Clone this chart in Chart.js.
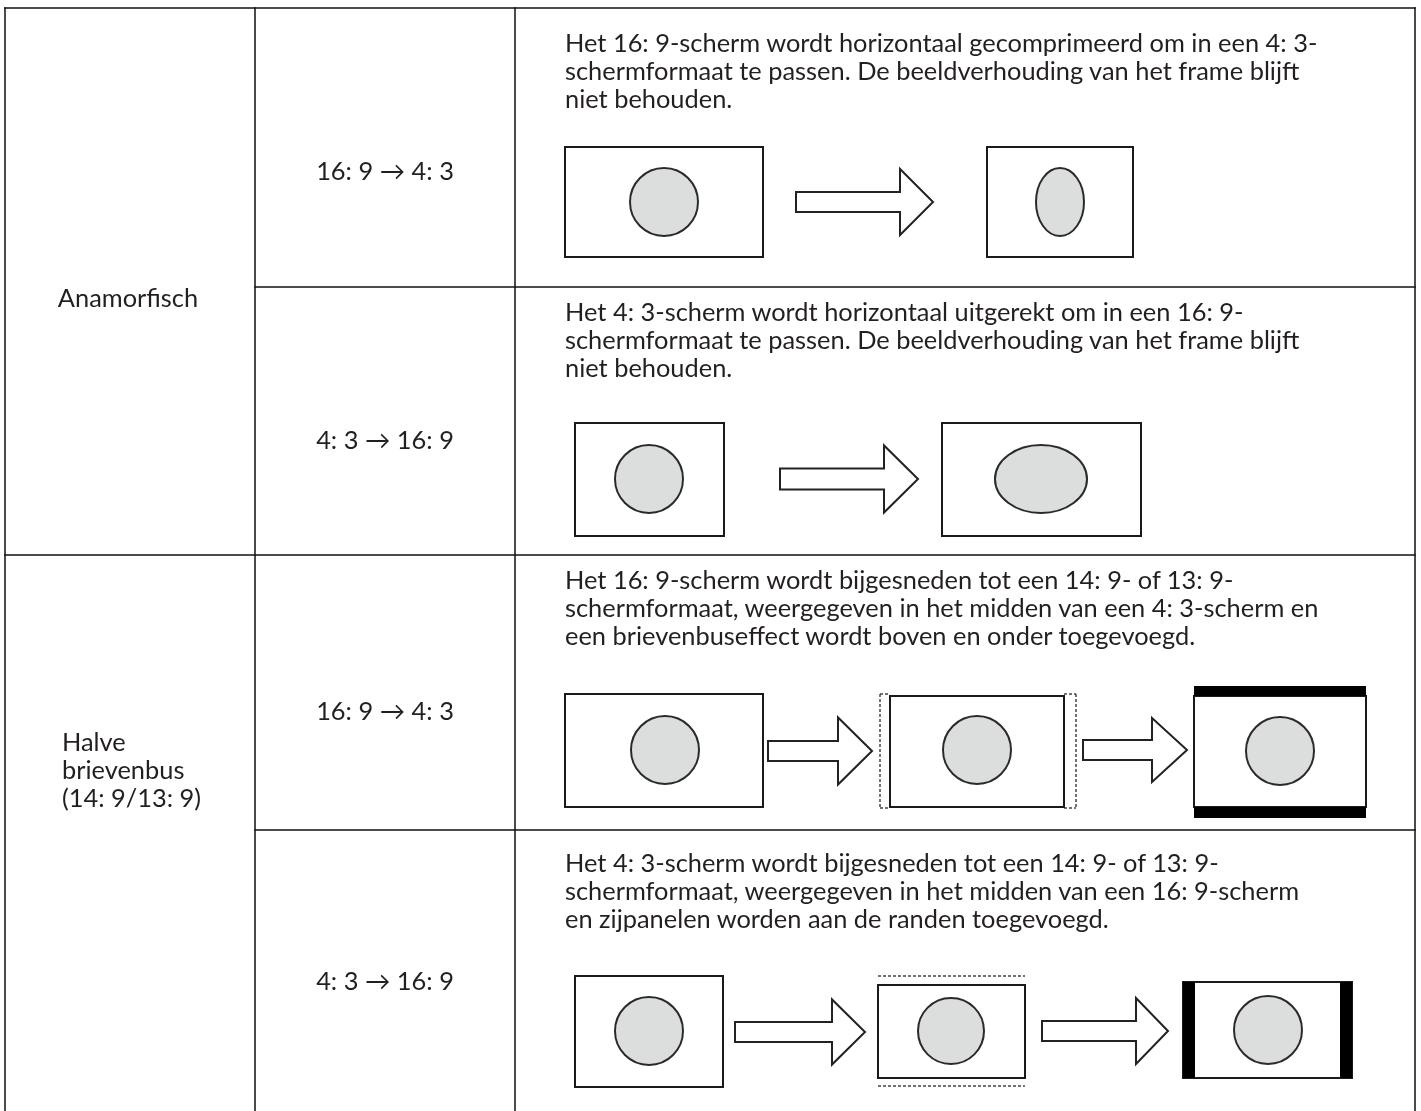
<!DOCTYPE html>
<html>
<head>
<meta charset="utf-8">
<script src="https://cdn.jsdelivr.net/npm/chart.js@4.4.0/dist/chart.umd.min.js"></script>
<style>
    body { margin: 0; background: #fff; }
    #wrap { position: relative; width: 1421px; height: 1111px; overflow: hidden; font-family: Lato, "Open Sans", sans-serif; color: #231f20; }
    #tabel { position: absolute; left: 0; top: 0; }
    .t { position: absolute; font-size: 25.4px; line-height: 28px; white-space: nowrap; }
</style>
</head>
<body>
<div id="wrap">
    <canvas id="tabel" width="1421" height="1111"></canvas>
</div>
<script>
// Teksten van de tabel
var modes = [['Anamorfisch'], ['Halve', 'brievenbus', '(14: 9/13: 9)']];
var conversions = ['16: 9 \u2192 4: 3', '4: 3 \u2192 16: 9', '16: 9 \u2192 4: 3', '4: 3 \u2192 16: 9'];
var descriptions = [
    ['Het 16: 9-scherm wordt horizontaal gecomprimeerd om in een 4: 3-', 'schermformaat te passen. De beeldverhouding van het frame blijft', 'niet behouden.'],
    ['Het 4: 3-scherm wordt horizontaal uitgerekt om in een 16: 9-', 'schermformaat te passen. De beeldverhouding van het frame blijft', 'niet behouden.'],
    ['Het 16: 9-scherm wordt bijgesneden tot een 14: 9- of 13: 9-', 'schermformaat, weergegeven in het midden van een 4: 3-scherm en', 'een brievenbuseffect wordt boven en onder toegevoegd.'],
    ['Het 4: 3-scherm wordt bijgesneden tot een 14: 9- of 13: 9-', 'schermformaat, weergegeven in het midden van een 16: 9-scherm', 'en zijpanelen worden aan de randen toegevoegd.']
];

// Tabelraster (kolom- en rijgrenzen)
var colEdges = [5, 255, 515, 1415];
var rowEdges = [8, 287, 555, 830, 1111];

// Schermen: [links, rechts, boven, onder]
var frames = [
    [565, 763, 147, 257], [987, 1133, 147, 257],
    [575, 724, 423, 536], [942, 1141, 423, 536],
    [565, 763, 694, 807], [890, 1064, 696, 807], [1194, 1366, 696, 807],
    [575, 723, 976, 1087], [878, 1025, 985, 1078], [1183, 1352, 982, 1078]
];
// Beeld (cirkel/ellips): [cx, cy, rx, ry]
var pictures = [
    [664, 202, 34, 34], [1060, 202, 24, 34],
    [649, 479, 34, 34], [1041, 479, 46, 34],
    [665, 750, 34, 34], [977, 750, 34, 34], [1280, 751, 34, 34],
    [649, 1031, 34, 34], [951, 1031, 33, 33], [1268, 1030, 34, 34]
];
// Pijlen: [start, punt, kop, cy, halve schacht, halve kop]
var arrows = [
    [796, 933, 900, 202, 10, 33],
    [780, 918, 884, 479, 10.5, 33.5],
    [768, 872, 838, 751, 10, 33.5], [1083, 1187, 1152, 750, 10, 32],
    [735, 865, 832, 1032, 10, 32.5], [1042, 1168, 1136, 1031, 10, 33]
];
// Zwarte balken: [links, rechts, boven, onder]
var bars = [
    [1194, 1366, 686, 696], [1194, 1366, 807, 818],
    [1183, 1195, 982, 1078], [1340, 1352, 982, 1078]
];
// Stippellijnen (bijsnijden): [x1, y1, x2, y2]
var cropLines = [
    [880, 694, 880, 808], [1076, 694, 1076, 808],
    [880, 694, 890, 694], [880, 808, 890, 808], [1064, 694, 1076, 694], [1064, 808, 1076, 808],
    [878, 976, 1025, 976], [878, 1086, 1025, 1086]
];

// Tekstposities (midden van de eerste regel)
var lineH = 28;
var modeLayout = [{ x: 128, y: 297, align: 'center' }, { x: 62, y: 741, align: 'left' }];
var conversionY = [170, 439, 710, 980];
var descriptionY = [42, 311, 579, 862];
var descriptionX = 565;

var wrap = document.getElementById('wrap');
function addText(lines, x, y, align) {
    var d = document.createElement('div');
    d.className = 't';
    d.style.left = x + 'px';
    d.style.top = (y - lineH / 2) + 'px';
    d.style.textAlign = align;
    if (align === 'center') d.style.transform = 'translateX(-50%)';
    d.innerHTML = lines.join('<br>');
    wrap.appendChild(d);
}
modes.forEach(function (m, i) { addText(m, modeLayout[i].x, modeLayout[i].y, modeLayout[i].align); });
conversions.forEach(function (c, i) { addText([c], (colEdges[1] + colEdges[2]) / 2, conversionY[i], 'center'); });
descriptions.forEach(function (d, i) { addText(d, descriptionX, descriptionY[i], 'left'); });

// Datasets opbouwen
var datasets = [];
function lineSet(points, color, width, dash) {
    datasets.push({
        data: points, showLine: true, pointRadius: 0, borderColor: color, borderWidth: width,
        borderDash: dash || [], tension: 0, fill: false,
        borderJoinStyle: 'miter', borderCapStyle: dash ? 'butt' : 'square'
    });
}
function rectPoints(r) {
    return [{ x: r[0], y: r[2] }, { x: r[1], y: r[2] }, { x: r[1], y: r[3] }, { x: r[0], y: r[3] }, { x: r[0], y: r[2] }];
}

// raster
colEdges.forEach(function (x) {
    lineSet([{ x: x, y: rowEdges[0] }, { x: x, y: rowEdges[4] }], '#111', 1.5);
});
lineSet([{ x: colEdges[0], y: rowEdges[0] }, { x: colEdges[3], y: rowEdges[0] }], '#111', 1.5);
lineSet([{ x: colEdges[1], y: rowEdges[1] }, { x: colEdges[3], y: rowEdges[1] }], '#111', 1.5);
lineSet([{ x: colEdges[0], y: rowEdges[2] }, { x: colEdges[3], y: rowEdges[2] }], '#111', 1.5);
lineSet([{ x: colEdges[1], y: rowEdges[3] }, { x: colEdges[3], y: rowEdges[3] }], '#111', 1.5);

// zwarte balken
bars.forEach(function (b) {
    datasets.push({
        data: rectPoints(b), showLine: true, pointRadius: 0, borderWidth: 0,
        borderColor: '#000', backgroundColor: '#000', fill: 'shape', tension: 0
    });
});
// schermen
frames.forEach(function (f) { lineSet(rectPoints(f), '#1a1a1a', 2); });
// stippellijnen
cropLines.forEach(function (l) {
    lineSet([{ x: l[0], y: l[1] }, { x: l[2], y: l[3] }], '#444', 1.5, [3, 2]);
});
// pijlen
arrows.forEach(function (a) {
    var x0 = a[0], tip = a[1], hx = a[2], cy = a[3], s = a[4], h = a[5];
    lineSet([
        { x: x0, y: cy - s }, { x: hx, y: cy - s }, { x: hx, y: cy - h }, { x: tip, y: cy },
        { x: hx, y: cy + h }, { x: hx, y: cy + s }, { x: x0, y: cy + s }, { x: x0, y: cy - s }
    ], '#222', 2);
});

// cirkels en ellipsen via de schalen tekenen
var pictureDraw = {
    id: 'pictureDraw',
    afterDatasetsDraw: function (chart) {
        var c = chart.ctx, sx = chart.scales.x, sy = chart.scales.y;
        c.save();
        pictures.forEach(function (p) {
            var px = sx.getPixelForValue(p[0]), py = sy.getPixelForValue(p[1]);
            var rx = sx.getPixelForValue(p[0] + p[2]) - px;
            var ry = Math.abs(sy.getPixelForValue(p[1] + p[3]) - py);
            c.beginPath();
            c.ellipse(px, py, rx, ry, 0, 0, Math.PI * 2);
            c.fillStyle = '#dcdedd';
            c.fill();
            c.lineWidth = 2;
            c.strokeStyle = '#2a2a2a';
            c.stroke();
        });
        c.restore();
    }
};

var ctx = document.getElementById('tabel').getContext('2d');
var chart = new Chart(ctx, {
    type: 'scatter',
    data: { datasets: datasets },
    options: {
        responsive: false,
        animation: false,
        devicePixelRatio: 1,
        events: [],
        layout: { padding: 0 },
        plugins: { legend: { display: false }, tooltip: { enabled: false } },
        scales: {
            x: { type: 'linear', min: 0, max: 1421, display: false },
            y: { type: 'linear', min: 0, max: 1111, reverse: true, display: false }
        }
    },
    plugins: [pictureDraw]
});
</script>
</body>
</html>
